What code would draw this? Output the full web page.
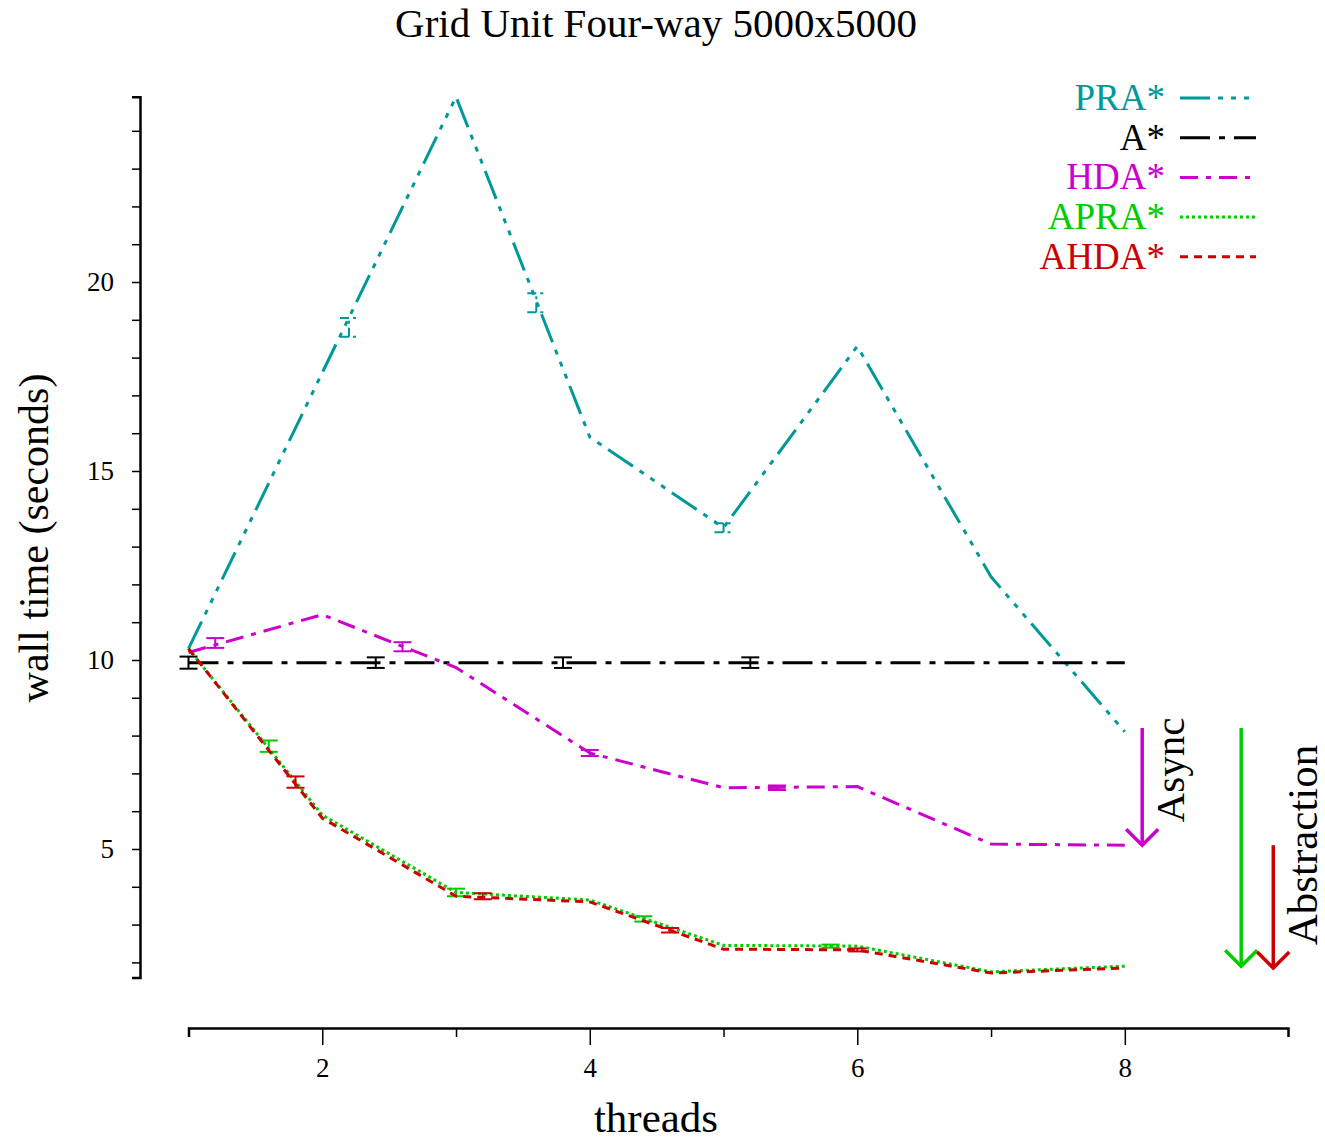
<!DOCTYPE html>
<html>
<head>
<meta charset="utf-8">
<script src="https://cdn.jsdelivr.net/npm/d3@7"></script>
<style>
  body { margin: 0; background: #fff; }
  svg text { font-family: 'Liberation Serif', 'DejaVu Serif', serif; }
</style>
</head>
<body>
<div id="chart"></div>
<script>
const width = 1325
const height = 1141

// data
const threads = [1, 2, 3, 4, 5, 6, 7, 8]
const seriesNames = ['PRA*', 'A*', 'HDA*', 'APRA*', 'AHDA*']
const praTimes = [10.3, 17.6, 24.9, 15.9, 13.5, 18.3, 12.2, 8.1]
const astarTimes = [9.93, 9.93, 9.93, 9.93, 9.93, 9.93, 9.93, 9.93]
const hdaTimes = [10.2, 11.2, 9.8, 7.54, 6.62, 6.65, 5.13, 5.1]
const apraTimes = [10.3, 5.9, 3.85, 3.65, 2.45, 2.43, 1.75, 1.9]
const ahdaTimes = [10.3, 5.82, 3.75, 3.6, 2.35, 2.33, 1.72, 1.85]

// error bars: [threads, mean, half-height]
const praErr = [[2.2, 18.8, 0.25], [3.6, 19.45, 0.25], [5.0, 13.5, 0.12]]
const astarErr = [[1.0, 9.93, 0.16], [2.4, 9.93, 0.14], [3.8, 9.93, 0.14], [5.2, 9.93, 0.14]]
const hdaErr = [[1.2, 10.45, 0.13], [2.6, 10.35, 0.12], [4.0, 7.54, 0.08], [5.4, 6.62, 0.06]]
const apraErr = [[1.6, 7.72, 0.15], [3.0, 3.85, 0.1], [4.4, 3.15, 0.07], [5.8, 2.43, 0.04]]
const ahdaErr = [[1.8, 6.77, 0.15], [3.2, 3.75, 0.08], [4.6, 2.85, 0.06], [6.0, 2.33, 0.04]]

// annotation arrows: [x in threads, from, to, colour]
const arrows = [[8.13, 8.2, 5.1, '#cc00cc'], [8.87, 8.2, 1.9, '#00cc00'], [9.11, 5.1, 1.85, '#cc0000']]

const xTicks = [2, 4, 6, 8]
const yTicks = [5, 10, 15, 20]

const colors = ['#009999', '#000000', '#cc00cc', '#00cc00', '#cc0000']
const dashes = ['30,8,5,8,5,8,5,8', '30,9,6,9', '18,8,5,8', '3,3', '8,6']
const allTimes = [praTimes, astarTimes, hdaTimes, apraTimes, ahdaTimes]
const allErr = [praErr, astarErr, hdaErr, apraErr, ahdaErr]

const svg = d3
  .select('#chart')
  .append('svg')
  .attr('width', width)
  .attr('height', height)

const xPositionScale = d3
  .scaleLinear()
  .domain([1, 9.22])
  .range([188.5, 1288])

const yPositionScale = d3
  .scaleLinear()
  .domain([1.6, 24.9])
  .range([977.5, 96.8])

// axes
const xAxis = d3
  .axisBottom(xPositionScale)
  .tickValues(d3.range(2, 9))
  .tickSizeOuter(9)
  .tickFormat(d => (xTicks.includes(d) ? d : ''))

svg
  .append('g')
  .attr('class', 'axis x-axis')
  .attr('transform', 'translate(0,1028)')
  .call(xAxis)
  .call(g => g.select('.domain').attr('stroke-width', 2.5))
  .call(g =>
    g
      .selectAll('.tick line')
      .attr('stroke-width', 1.5)
      .attr('y2', d => (xTicks.includes(d) ? 17 : 9))
  )
  .call(g =>
    g
      .selectAll('.tick text')
      .attr('y', 30)
      .attr('font-size', 27)
      .attr('font-family', 'Liberation Serif')
  )

const yAxis = d3
  .axisLeft(yPositionScale)
  .tickValues(d3.range(2, 25))
  .tickSizeOuter(0)
  .tickSize(8)
  .tickFormat(d => (yTicks.includes(d) ? d : ''))

svg
  .append('g')
  .attr('class', 'axis y-axis')
  .attr('transform', 'translate(140,0)')
  .call(yAxis)
  .call(g => g.select('.domain').attr('stroke-width', 2.5))
  .call(g => g.selectAll('.tick line').attr('stroke-width', 1.5))
  .call(g =>
    g
      .selectAll('.tick text')
      .attr('x', -26)
      .attr('font-size', 27)
      .attr('font-family', 'Liberation Serif')
  )

// lines
const line = d3
  .line()
  .x((d, i) => xPositionScale(threads[i]))
  .y(d => yPositionScale(d))

allTimes.forEach(function(times, s) {
  svg
    .append('path')
    .datum(times)
    .attr('d', line)
    .attr('fill', 'none')
    .attr('stroke', colors[s])
    .attr('stroke-width', 3)
    .attr('stroke-dasharray', dashes[s])

  const bars = svg
    .append('g')
    .selectAll('g')
    .data(allErr[s])
    .enter()
    .append('g')
    .attr('stroke', colors[s])
    .attr('stroke-width', 2)
    .attr('stroke-dasharray', s === 0 ? '9,4,3,4' : null)

  bars
    .append('line')
    .attr('x1', d => xPositionScale(d[0]))
    .attr('x2', d => xPositionScale(d[0]))
    .attr('y1', d => yPositionScale(d[1] - d[2]))
    .attr('y2', d => yPositionScale(d[1] + d[2]))

  bars
    .selectAll('.cap')
    .data(d => [[d[0], d[1] - d[2]], [d[0], d[1] + d[2]]])
    .enter()
    .append('line')
    .attr('class', 'cap')
    .attr('x1', d => xPositionScale(d[0]) - 9)
    .attr('x2', d => xPositionScale(d[0]) + 9)
    .attr('y1', d => yPositionScale(d[1]))
    .attr('y2', d => yPositionScale(d[1]))
})

// arrows
const arrowG = svg
  .selectAll('.arrow')
  .data(arrows)
  .enter()
  .append('g')
  .attr('class', 'arrow')
  .attr('stroke', d => d[3])
  .attr('stroke-width', 3.5)
  .attr('fill', 'none')

arrowG
  .append('line')
  .attr('x1', d => xPositionScale(d[0]))
  .attr('x2', d => xPositionScale(d[0]))
  .attr('y1', d => yPositionScale(d[1]))
  .attr('y2', d => yPositionScale(d[2]))

arrowG
  .append('path')
  .attr('d', function(d) {
    const x = xPositionScale(d[0])
    const y = yPositionScale(d[2])
    return `M${x - 16},${y - 16}L${x},${y}L${x + 16},${y - 16}`
  })

svg
  .append('text')
  .text('Async')
  .attr('transform', 'translate(1184,770) rotate(-90)')
  .attr('text-anchor', 'middle')
  .attr('font-size', 41)

svg
  .append('text')
  .text('Abstraction')
  .attr('transform', 'translate(1317,845) rotate(-90)')
  .attr('text-anchor', 'middle')
  .attr('font-size', 43)

// legend
const legend = svg
  .selectAll('.legend')
  .data(seriesNames)
  .enter()
  .append('g')
  .attr('class', 'legend')
  .attr('transform', (d, i) => `translate(0,${98 + i * 39.7})`)

legend
  .append('text')
  .text(d => d)
  .attr('x', 1165)
  .attr('y', 12)
  .attr('text-anchor', 'end')
  .attr('font-size', 37)
  .attr('fill', (d, i) => colors[i])

legend
  .append('line')
  .attr('x1', 1180)
  .attr('x2', 1256)
  .attr('stroke', (d, i) => colors[i])
  .attr('stroke-width', 3)
  .attr('stroke-dasharray', (d, i) => dashes[i])

// titles
svg
  .append('text')
  .text('Grid Unit Four-way 5000x5000')
  .attr('x', 656)
  .attr('y', 37)
  .attr('text-anchor', 'middle')
  .attr('font-size', 41)

svg
  .append('text')
  .text('threads')
  .attr('x', 656)
  .attr('y', 1132)
  .attr('text-anchor', 'middle')
  .attr('font-size', 43)

svg
  .append('text')
  .text('wall time (seconds)')
  .attr('transform', 'translate(48,538) rotate(-90)')
  .attr('text-anchor', 'middle')
  .attr('font-size', 42)
</script>
</body>
</html>
